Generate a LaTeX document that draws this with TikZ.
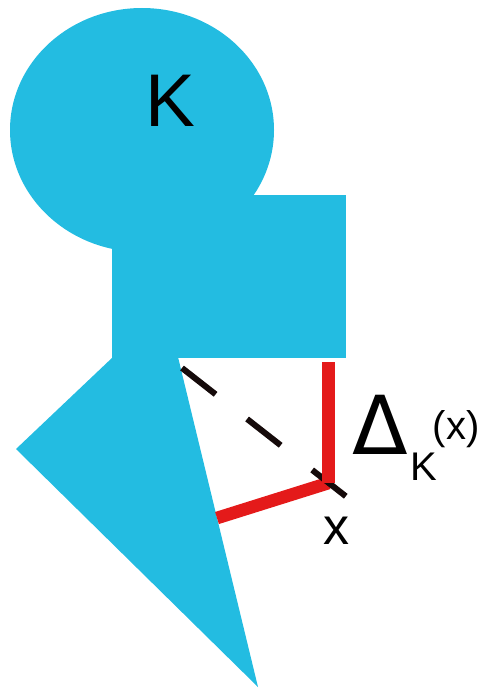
\documentclass[tikz,border=0pt]{standalone}
\usepackage{fontspec}
\setmainfont{Liberation Sans}
\newfontfamily\deltafont{DejaVu Sans}
\usetikzlibrary{positioning}
\definecolor{cBody}{HTML}{23BCE1}
\definecolor{cDist}{HTML}{E41A1A}
\definecolor{cProj}{HTML}{150A0A}
\tikzset{
  body/.style  ={fill=cBody,draw=none},
  dist/.style  ={draw=cDist,line width=9.5pt,line cap=butt},
  proj/.style  ={draw=cProj,line width=4.5pt,dash pattern=on 32pt off 30pt},
  lbl/.style   ={inner sep=0pt,text=black},
}
\begin{document}
\begin{tikzpicture}[x=0.75pt, y=-0.75pt]
\useasboundingbox (0,0) rectangle (481,688);

% ===== the set K ==========================================================
\fill[body] (142,130) ellipse [x radius=132, y radius=122];
\fill[body] (112,195) rectangle (346,358);
\fill[body] (113,357) -- (16,449) -- (258,687) -- (178,357) -- cycle;
\node[lbl,font=\fontsize{56}{60}\selectfont] (setK) at (170,101) {K};

% ===== point x and its nearest points =====================================
\coordinate (x)    at (328.5,483);
\coordinate (near) at (217,518);
\coordinate (top)  at (328.5,362);
\coordinate (edge) at (182,368);
\coordinate (tail) at (348,498);

\draw[dist] (x) -- (near);
\draw[proj] (edge) -- (tail);
\draw[dist] (top) -- (x);

\node[lbl,font=\fontsize{39}{42}\selectfont] (xlbl) at (336,531) {x};

% ===== label Delta_K^(x) ==================================================
\node[lbl,font=\deltafont\fontsize{61}{64}\selectfont] (delta) at (380,425) {Δ};
\node[lbl,font=\fontsize{30}{33}\selectfont] (dsub)  at (424,467) {K};
\node[lbl,font=\fontsize{30}{33}\selectfont] (dsup)  at (456,429) {(x)};
\end{tikzpicture}
\end{document}
